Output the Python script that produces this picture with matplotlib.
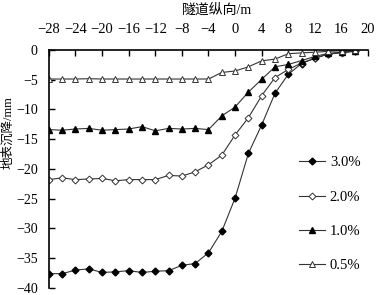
import matplotlib.pyplot as plt

# 隧道纵向距离 (m)
x = [-28, -26, -24, -22, -20, -18, -16, -14, -12, -10, -8, -6, -4,
     -2, 0, 2, 4, 6, 8, 10, 12, 14, 16, 18]

# 地表沉降 (mm)
s30 = [-37.6, -37.6, -37.0, -36.8, -37.4, -37.3, -37.1, -37.4, -37.2, -37.1, -36.2, -35.9, -34.1,
       -30.5, -24.9, -17.4, -12.6, -7.3, -4.1, -2.3, -1.4, -0.7, -0.4, -0.2]
s20 = [-21.8, -21.5, -21.8, -21.7, -21.6, -22.0, -21.8, -21.8, -21.8, -21.1, -21.2, -20.5, -19.3,
       -17.7, -14.3, -11.4, -7.7, -4.65, -3.3, -2.2, -1.4, -0.7, -0.5, -0.25]
s10 = [-13.4, -13.5, -13.3, -13.2, -13.5, -13.4, -13.3, -12.9, -13.6, -13.2, -13.3, -13.2, -13.4,
       -11.1, -9.6, -7.1, -4.95, -2.85, -2.45, -1.8, -1.1, -0.6, -0.4, -0.2]
s05 = [-4.9, -4.9, -4.9, -4.85, -4.9, -4.9, -4.9, -4.9, -4.9, -4.9, -4.9, -4.9, -4.9,
       -3.8, -3.55, -2.85, -1.85, -1.55, -0.65, -0.5, -0.4, -0.25, -0.15, -0.1]
labels = ["3.0%", "2.0%", "1.0%", "0.5%"]

latin = "Liberation Serif"
fam = [latin, "Noto Sans CJK SC"]

fig = plt.figure(figsize=(3.76, 2.95), dpi=100)
ax = fig.add_axes([0.130, 0.024, 0.849, 0.807])

lc = "#333333"
ax.plot(x, s30, '-D', color=lc, lw=0.8, ms=3.5, mfc='black', mec='black', label=labels[0])
ax.plot(x, s20, '-D', color=lc, lw=0.8, ms=3.5, mfc='white', mec='#333333', mew=0.7, label=labels[1])
ax.plot(x, s10, '-^', color=lc, lw=0.8, ms=4.5, mfc='black', mec='black', label=labels[2])
ax.plot(x, s05, '-^', color=lc, lw=0.8, ms=4.5, mfc='white', mec='#333333', mew=0.7, label=labels[3])

ax.set_xlim(-28, 20)
ax.set_ylim(-40, 0)
ax.set_xticks(range(-28, 21, 4))
ax.set_yticks(range(-40, 1, 5))

ax.xaxis.set_ticks_position('top')
ax.xaxis.set_label_position('top')
ax.spines['bottom'].set_visible(False)
ax.spines['right'].set_visible(False)
ax.spines['top'].set_linewidth(1.2)
ax.spines['left'].set_linewidth(1.2)
ax.tick_params(axis='x', which='major', direction='in', length=4, width=1, pad=10,
               labelsize=10.5, top=True, labeltop=True, bottom=False, labelbottom=False)
ax.tick_params(axis='y', direction='in', length=4, width=1, pad=8, labelsize=10)
for lab in ax.get_xticklabels() + ax.get_yticklabels():
    lab.set_family(latin)

ax.set_xlabel("隧道纵向/m", family=fam, fontsize=10)
ax.xaxis.set_label_coords(0.527, 1.168)
ax.xaxis.label.set_va('center')
ax.set_ylabel("地表沉降/mm", family=fam, fontsize=9)
ax.yaxis.set_label_coords(-0.127, 0.651)
ax.yaxis.label.set_va('center')

leg = ax.legend(loc='center left', bbox_to_anchor=(0.784, 0.309), frameon=False,
                borderpad=0, borderaxespad=0,
                labelspacing=1.45, handlelength=1.8, handletextpad=0.3,
                prop={'family': latin, 'size': 10.5})

fig.savefig("out.png", dpi=100)
